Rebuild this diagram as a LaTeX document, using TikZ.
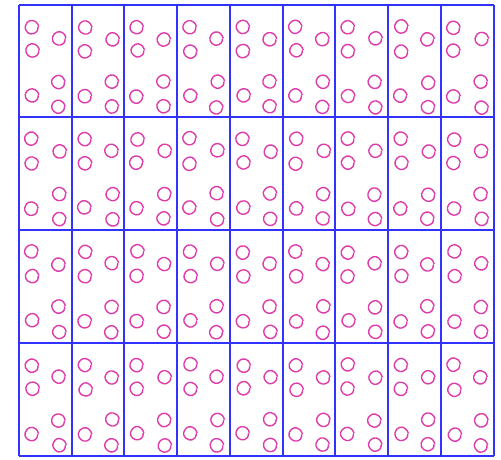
\documentclass[tikz,border=0pt]{standalone}
\usetikzlibrary{decorations.pathmorphing}
\definecolor{gridblue}{RGB}{50,50,255}
\definecolor{dotpink}{RGB}{222,60,170}
\tikzset{
  gridline/.style={draw=gridblue, line width=1.7pt},
  ring/.style={draw=dotpink, line width=1.4pt, decorate, decoration={random steps, segment length=3pt, amplitude=0.3pt}, rounded corners=1.2pt}
}
\begin{document}
\begin{tikzpicture}[x=1pt,y=-1pt]
\pgfmathsetseed{7}
\useasboundingbox (0,0) rectangle (501,460);
\fill[white] (0,0) rectangle (501,460);
% grid
\foreach \x in {19,72,124,177,230,283,335,388,441,494} {
  \draw[gridline] (\x,5) -- (\x,456);
}
\foreach \y in {5,117,230,343,456} {
  \draw[gridline] (19,\y) -- (494,\y);
}
% circles
\foreach \x [count=\i from 0] in {19,72,124,177,230,283,335,388,441} {
  \foreach \y in {5,117,230,343} {
    \foreach \dx/\dy in {13/22, 13/46, 40/34, 40/77, 13/91, 40/102} {
      \pgfmathsetmacro{\jx}{rand*0.8}
      \pgfmathsetmacro{\jy}{rand*0.8}
      \draw[ring] ({\x+\dx+\jx},{\y+\dy+\jy}) circle (6);
    }
  }
}
\end{tikzpicture}
\end{document}
